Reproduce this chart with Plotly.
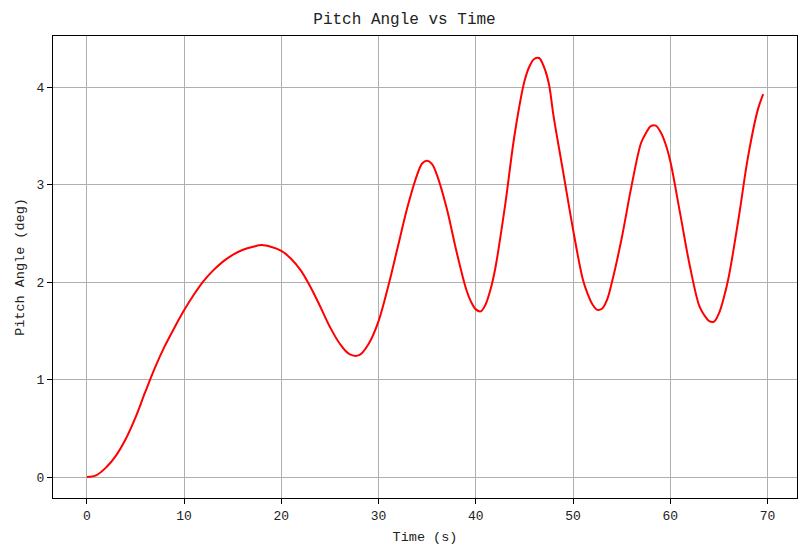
import plotly.graph_objects as go

time_s = [0, 1, 2, 3, 4, 5, 6, 7, 8, 9, 10, 11, 12, 13, 14, 15, 16, 17, 18, 19,
          20, 21, 22, 23, 24, 25, 26, 27, 28, 29, 30, 31, 32, 33, 34, 34.5, 35, 35.5,
          36, 37, 38, 39, 39.5, 40, 40.5, 41, 41.5, 42, 43, 44, 45, 45.5, 46, 46.5, 47, 47.5,
          48, 49, 50, 51, 51.5, 52, 52.5, 53, 53.5, 54, 55, 56, 57, 57.5, 58, 58.5, 59, 59.5,
          60, 61, 62, 63, 63.5, 64, 64.5, 65, 65.5, 66, 67, 68, 69, 69.55]
pitch_deg = [0.00, 0.02, 0.10, 0.22, 0.39, 0.61, 0.87, 1.12, 1.34, 1.53, 1.71,
             1.87, 2.01, 2.12, 2.21, 2.28, 2.33, 2.36, 2.38, 2.36, 2.32, 2.24,
             2.12, 1.95, 1.75, 1.54, 1.37, 1.26, 1.25, 1.37, 1.60, 1.96,
             2.37, 2.78, 3.11, 3.22, 3.245, 3.21,
             3.10, 2.76, 2.32, 1.93, 1.80, 1.72, 1.70, 1.77, 1.92,
             2.14, 2.78, 3.52, 4.06, 4.21, 4.29, 4.30, 4.21, 4.04,
             3.70, 3.12, 2.54, 2.03, 1.88, 1.77, 1.715, 1.73, 1.82,
             2.00, 2.45, 2.98, 3.43, 3.53, 3.60, 3.605, 3.54, 3.42,
             3.24, 2.71, 2.17, 1.75, 1.66, 1.60, 1.595, 1.68, 1.84,
             2.05, 2.64, 3.29, 3.77, 3.93]

x_ticks = [0, 10, 20, 30, 40, 50, 60, 70]
y_ticks = [0, 1, 2, 3, 4]

FONT = "Liberation Mono"
W, H = 793, 539

fig = go.Figure()
fig.add_trace(go.Scatter(x=time_s, y=pitch_deg, mode="lines",
                         line=dict(color="#ff0000", width=2, shape="spline", smoothing=1),
                         showlegend=False))

xmin, xmax = min(time_s), max(time_s)
ymin, ymax = 0.0, 4.31
xpad = (xmax - xmin) * 0.05
ypad = (ymax - ymin) * 0.05

axis_common = dict(showline=True, linecolor="black", linewidth=1.2, mirror=True,
                   ticks="outside", ticklen=5, tickwidth=1.2, tickcolor="black",
                   showgrid=True, gridcolor="#b0b0b0", gridwidth=1,
                   zeroline=False, automargin=False,
                   tickfont=dict(family=FONT, size=13, color="#222"))

fig.update_layout(
    width=W, height=H,
    margin=dict(l=45, r=4, t=28, b=49),
    paper_bgcolor="white", plot_bgcolor="white",
    font=dict(family=FONT, color="#222"),
    title=dict(text="Pitch Angle vs Time", x=0.5, xanchor="center",
               y=1 - 10 / H, yref="container", yanchor="middle",
               font=dict(family=FONT, size=16, color="#222")),
    xaxis=dict(range=[xmin - xpad, xmax + xpad], tickvals=x_ticks,
               title=dict(text="Time (s)", font=dict(family=FONT, size=13.5), standoff=8),
               **axis_common),
    yaxis=dict(range=[ymin - ypad, ymax + ypad], tickvals=y_ticks,
               title=dict(text="Pitch Angle (deg)", font=dict(family=FONT, size=13.5), standoff=8),
               **axis_common),
)

fig.write_html("out.html")
